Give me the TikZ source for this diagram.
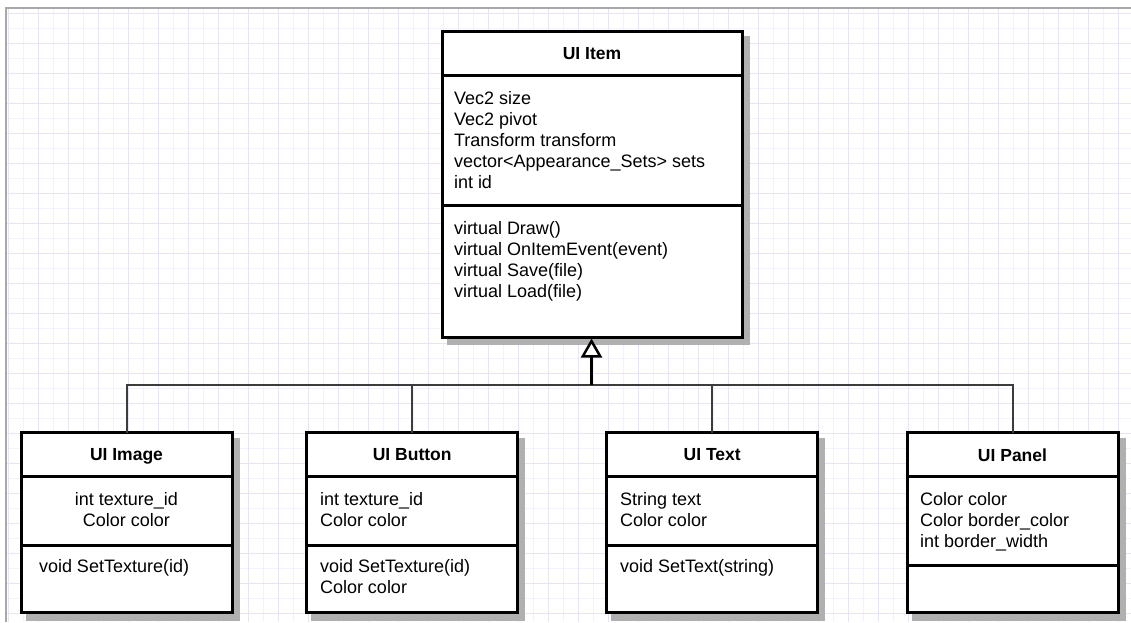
\documentclass[tikz,border=0pt]{standalone}
\usepackage{fontspec}
\setmainfont{Liberation Sans}
\usetikzlibrary{arrows.meta}

\definecolor{gridminor}{RGB}{242,242,253}
\definecolor{gridmajor}{RGB}{228,228,250}
\definecolor{framegray}{RGB}{168,168,168}
\definecolor{shadowgray}{RGB}{176,176,176}
\definecolor{edgegray}{RGB}{60,60,60}

% one line of text inside a class compartment
\newcommand\umltext[4][base west]{\node[umltxt, anchor=#1] (#2) at #3 {#4};}

\begin{document}
\begin{tikzpicture}[x=1pt, y=-1pt,
  umltxt/.style={inner sep=0pt, outer sep=0pt, font=\fontsize{18}{21}\selectfont, text=black},
  part/.style={draw=black, line width=3pt, fill=white, inner sep=0pt, outer sep=0pt, anchor=north west},
  head/.style={part, font=\fontsize{17.5}{21}\selectfont\bfseries, text depth=0pt},
  shade/.style={fill=shadowgray, draw=shadowgray, line width=3pt},
  stub/.style={draw=shadowgray, line width=2pt},
  edge/.style={draw=edgegray, line width=2pt},
  stem/.style={draw=black, line width=2.5pt},
]
\useasboundingbox (0,0) rectangle (1131,622);

% background grid
\foreach \i in {0,...,75} {\draw[gridminor, line width=1pt] ({8+15*\i},8) -- ({8+15*\i},622);}
\foreach \i in {0,...,40} {\draw[gridminor, line width=1pt] (6,{13+15*\i}) -- (1131,{13+15*\i});}
\foreach \i in {0,...,37} {\draw[gridmajor, line width=1pt] ({8+30*\i},8) -- ({8+30*\i},622);}
\foreach \i in {0,...,20} {\draw[gridmajor, line width=1pt] (6,{13+30*\i}) -- (1131,{13+30*\i});}
\draw[framegray, line width=1.5pt] (6,622) -- (6,8) -- (1131,8);

% ---------- UI Item ----------
\fill[shade] (448,37) rectangle (748,343);
\draw[stub] (742,81) -- (749,81);
\draw[stub] (742,211) -- (749,211);
\node[head, minimum width=300pt, minimum height=44pt] (itemhead) at (442,31) {UI Item};
\node[part, minimum width=300pt, minimum height=130pt] (itemattr) at (442,75) {};
\node[part, minimum width=300pt, minimum height=132pt] (itemops) at (442,205) {};
\umltext{ia1}{(454,104)}{Vec2 size}
\umltext{ia2}{(454,125)}{Vec2 pivot}
\umltext{ia3}{(454,146)}{Transform transform}
\umltext{ia4}{(454,167)}{vector<Appearance\_Sets> sets}
\umltext{ia5}{(454,188)}{int id}
\umltext{io1}{(454,234)}{virtual Draw()}
\umltext{io2}{(454,255)}{virtual OnItemEvent(event)}
\umltext{io3}{(454,276)}{virtual Save(file)}
\umltext{io4}{(454,297)}{virtual Load(file)}

% ---------- UI Image ----------
\fill[shade] (27,439) rectangle (238,619);
\draw[stub] (232,483) -- (239,483);
\draw[stub] (232,551) -- (239,551);
\node[head, minimum width=211pt, minimum height=44pt] (imagehead) at (21,432.7) {UI Image};
\node[part, minimum width=211pt, minimum height=68.3pt] (imageattr) at (21,476.7) {};
\node[part, minimum width=211pt, minimum height=67.7pt] (imageops) at (21,545) {};
\umltext[base]{ima1}{(126.5,505)}{int texture\_id}
\umltext[base]{ima2}{(126.5,526)}{Color color}
\umltext{imo1}{(39,572)}{void SetTexture(id)}

% ---------- UI Button ----------
\fill[shade] (312.7,439) rectangle (523.7,619);
\draw[stub] (517.7,483) -- (524.7,483);
\draw[stub] (517.7,551) -- (524.7,551);
\node[head, minimum width=211pt, minimum height=44pt] (buttonhead) at (306.7,432.7) {UI Button};
\node[part, minimum width=211pt, minimum height=68.3pt] (buttonattr) at (306.7,476.7) {};
\node[part, minimum width=211pt, minimum height=67.7pt] (buttonops) at (306.7,545) {};
\umltext{ba1}{(320,505)}{int texture\_id}
\umltext{ba2}{(320,526)}{Color color}
\umltext{bo1}{(320,572)}{void SetTexture(id)}
\umltext{bo2}{(320,593)}{Color color}

% ---------- UI Text ----------
\fill[shade] (612.7,439) rectangle (823.7,619);
\draw[stub] (817.7,483) -- (824.7,483);
\draw[stub] (817.7,551) -- (824.7,551);
\node[head, minimum width=211pt, minimum height=44pt] (texthead) at (606.7,432.7) {UI Text};
\node[part, minimum width=211pt, minimum height=68.3pt] (textattr) at (606.7,476.7) {};
\node[part, minimum width=211pt, minimum height=67.7pt] (textops) at (606.7,545) {};
\umltext{ta1}{(620,505)}{String text}
\umltext{ta2}{(620,526)}{Color color}
\umltext{to1}{(620,572)}{void SetText(string)}

% ---------- UI Panel ----------
\fill[shade] (913,439) rectangle (1124,619);
\draw[stub] (1118,483) -- (1125,483);
\draw[stub] (1118,571) -- (1125,571);
\node[head, minimum width=211pt, minimum height=44pt] (panelhead) at (907,432.7) {UI Panel};
\node[part, minimum width=211pt, minimum height=88.3pt] (panelattr) at (907,476.7) {};
\node[part, minimum width=211pt, minimum height=47.7pt] (panelops) at (907,565) {};
\umltext{pa1}{(920,505)}{Color color}
\umltext{pa2}{(920,526)}{Color border\_color}
\umltext{pa3}{(920,547)}{int border\_width}

% ---------- generalisation connectors ----------
\coordinate (bus) at (591.5,385);
\draw[edge] (imagehead.north) |- (bus);
\draw[edge] (buttonhead.north) |- (bus);
\draw[edge] (texthead.north) |- (bus);
\draw[edge] (panelhead.north) |- (bus);
\draw[stem, -{Triangle[fill=white, length=19pt, width=21pt]}, shorten >=1.5pt] (bus) -- (bus |- itemops.south);
\end{tikzpicture}
\end{document}
